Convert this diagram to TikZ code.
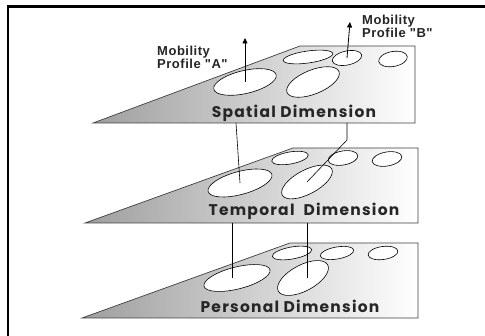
\documentclass[tikz,border=0pt]{standalone}
\usepackage{fontspec}
\setmainfont{Liberation Sans}
\newfontfamily\dimfont{Poppins}[LetterSpace=8]
\newfontfamily\mobfont{Liberation Sans}[LetterSpace=4]
\usetikzlibrary{shapes.geometric,arrows.meta}
\begin{document}
\begin{tikzpicture}[x=1pt,y=-1pt,
  plate/.style={draw=black!75, line width=0.7pt, left color=black!38, right color=white},
  ell/.style={ellipse, draw=black, fill=white, line width=0.6pt, inner sep=0pt},
  conn/.style={draw=black, line width=0.6pt},
  uparrow/.style={draw=black, line width=0.8pt, -{Triangle[width=5pt,length=5.5pt]}},
  mlabel/.style={font=\mobfont\bfseries\fontsize{13}{12}\selectfont, align=left, inner sep=0pt, anchor=west, text=black!85},
  dlabel/.style={font=\dimfont\bfseries\fontsize{15.5}{16}\selectfont, inner sep=0pt, text=black!85}]
\useasboundingbox (0,0) rectangle (485,336);
\fill[white] (0,0) rectangle (485,336);
% frame
\draw[line width=2.2pt] (486,6.5) -- (8,6.5) -- (8,337);

% ---------- plate 1: spatial ----------
\coordinate (p1bl) at (93,123);
\coordinate (p1tl) at (300,46);
\coordinate (p1tr) at (415,46);
\coordinate (p1br) at (415,123);
\path[plate] (p1bl) -- (p1tl) -- (p1tr) -- (p1br) -- cycle;
\node[ell, minimum width=64pt, minimum height=23pt, rotate=13] (s1) at (245,82) {};
\node[ell, minimum width=56pt, minimum height=24pt, rotate=22] (s2) at (313,82) {};
\node[ell, minimum width=50pt, minimum height=12pt, rotate=8] (s3) at (308,57) {};
\node[ell, minimum width=30pt, minimum height=14pt, rotate=12] (s4) at (347,58) {};
\node[ell, minimum width=29pt, minimum height=15pt, rotate=10] (s5) at (393,59) {};
\node[dlabel] (sd) at (294,113) {Spatial Dimension};

% ---------- plate 2: temporal ----------
\coordinate (p2bl) at (85,223);
\coordinate (p2tl) at (293,148);
\coordinate (p2tr) at (418,148);
\coordinate (p2br) at (418,223);
\path[plate] (p2bl) -- (p2tl) -- (p2tr) -- (p2br) -- cycle;
\node[ell, minimum width=66pt, minimum height=23pt, rotate=15] (t1) at (240,183) {};
\node[ell, minimum width=56pt, minimum height=24pt, rotate=28] (t2) at (307,182) {};
\node[ell, minimum width=37pt, minimum height=12pt, rotate=10] (t3) at (290,158) {};
\node[ell, minimum width=30pt, minimum height=14pt, rotate=10] (t4) at (343,158) {};
\node[ell, minimum width=30pt, minimum height=14pt, rotate=10] (t5) at (387,159) {};
\node[dlabel] (td) at (304,211) {Temporal\ \ Dimension};

% ---------- plate 3: personal ----------
\coordinate (p3bl) at (82,318);
\coordinate (p3tl) at (290,243);
\coordinate (p3tr) at (418,243);
\coordinate (p3br) at (418,318);
\path[plate] (p3bl) -- (p3tl) -- (p3tr) -- (p3br) -- cycle;
\node[ell, minimum width=68pt, minimum height=22pt, rotate=14] (r1) at (237,278) {};
\node[ell, minimum width=56pt, minimum height=26pt, rotate=28] (r2) at (303,278) {};
\node[ell, minimum width=40pt, minimum height=12pt, rotate=10] (r3) at (292,253) {};
\node[ell, minimum width=34pt, minimum height=12pt, rotate=10] (r4) at (337,253) {};
\node[ell, minimum width=30pt, minimum height=13pt, rotate=8] (r5) at (383,253) {};
\node[dlabel] (rd) at (290,306) {Personal Dimension};

% ---------- connectors ----------
\coordinate (c1a) at (236,123);
\coordinate (c1b) at (347,123);
\coordinate (c1k) at (347,140);
\draw[conn] (c1a) -- (t1.center);
\draw[conn] (c1b) -- (c1k) -- (t2.center);
\coordinate (c2a) at (232,223);
\coordinate (c2b) at (307,223);
\draw[conn] (c2a) -- (c2a |- r1.center);
\draw[conn] (c2b) -- (c2b |- r2.center);

% ---------- mobility profiles ----------
\coordinate (aA) at (245,38);
\coordinate (aB) at (350,22);
\draw[uparrow] (s1.center) -- (aA);
\draw[uparrow] (s4.center) -- (aB);
\node[mlabel] (lA) at (157,57.5) {Mobility\\Profile "A"};
\node[mlabel] (lB) at (362,26) {Mobility\\Profile "B"};
\end{tikzpicture}
\end{document}
